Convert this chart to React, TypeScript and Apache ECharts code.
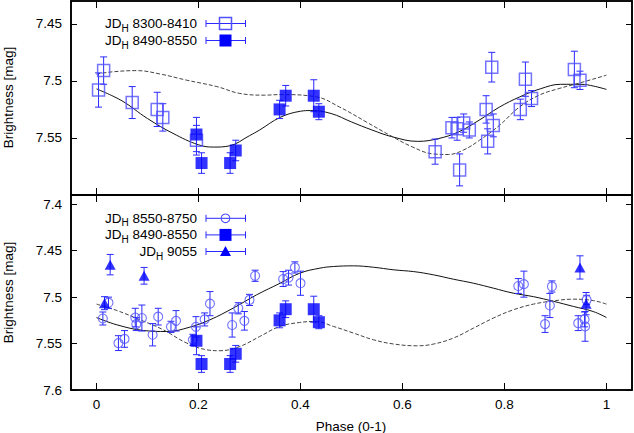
import React, { useEffect, useRef } from 'react';
import * as echarts from 'echarts';

// phase, magnitude, error
type Obs = [number, number, number];
type Pt = [number, number];

const xTicks = [0, 0.2, 0.4, 0.6, 0.8, 1];
const topYTicks = [7.45, 7.5, 7.55];
const bottomYTicks = [7.4, 7.45, 7.5, 7.55, 7.6];

const topLegend = ['8300-8410', '8490-8550'];
const bottomLegend = ['8550-8750', '8490-8550', '9055'];

const jd8300: Obs[] = [
  [0.004, 7.508, 0.015], [0.014, 7.491, 0.012], [0.07, 7.519, 0.014], [0.119, 7.525, 0.015],
  [0.13, 7.532, 0.012], [0.196, 7.552, 0.013], [0.664, 7.562, 0.011], [0.697, 7.541, 0.009],
  [0.707, 7.542, 0.01], [0.712, 7.578, 0.014], [0.72, 7.537, 0.008], [0.731, 7.543, 0.007],
  [0.764, 7.525, 0.012], [0.767, 7.553, 0.011], [0.775, 7.488, 0.013], [0.778, 7.539, 0.01],
  [0.831, 7.525, 0.009], [0.841, 7.4985, 0.015], [0.853, 7.5155, 0.007], [0.937, 7.49, 0.016],
  [0.948, 7.4995, 0.008],
];

const jd8490: Obs[] = [
  [0.196, 7.547, 0.015], [0.206, 7.572, 0.009], [0.262, 7.572, 0.009], [0.273, 7.561, 0.009],
  [0.359, 7.525, 0.008], [0.371, 7.513, 0.009], [0.426, 7.513, 0.014], [0.436, 7.527, 0.007],
];

const jd8550: Obs[] = [
  [0.0125, 7.523, 0.007], [0.0235, 7.506, 0.006], [0.043, 7.5495, 0.008], [0.055, 7.545, 0.009],
  [0.076, 7.522, 0.01], [0.078, 7.529, 0.007], [0.089, 7.5225, 0.014], [0.11, 7.5405, 0.012],
  [0.121, 7.521, 0.009], [0.146, 7.532, 0.006], [0.156, 7.5255, 0.011], [0.189, 7.546, 0.006],
  [0.195, 7.532, 0.011], [0.212, 7.524, 0.007], [0.2225, 7.507, 0.013], [0.266, 7.53, 0.013],
  [0.278, 7.512, 0.006], [0.29, 7.5255, 0.01], [0.3, 7.503, 0.006], [0.311, 7.477, 0.006],
  [0.366, 7.4805, 0.008], [0.3765, 7.479, 0.008], [0.389, 7.468, 0.006], [0.4, 7.485, 0.013],
  [0.827, 7.488, 0.008], [0.838, 7.486, 0.014], [0.8795, 7.529, 0.009], [0.889, 7.509, 0.013],
  [0.893, 7.4885, 0.006], [0.9445, 7.528, 0.008], [0.957, 7.524, 0.008], [0.958, 7.5315, 0.016],
  [0.961, 7.503, 0.005],
];

const jd9055: Obs[] = [
  [0.0157, 7.5065, 0.007], [0.0268, 7.465, 0.011], [0.0933, 7.477, 0.009],
  [0.948, 7.468, 0.0125], [0.96, 7.507, 0.012],
];

// fitted light curves
const topSolid: Pt[] = [
  [0, 7.507], [0.05, 7.5175], [0.1, 7.533], [0.15, 7.546], [0.2, 7.556], [0.23, 7.558],
  [0.26, 7.557], [0.3, 7.548], [0.32, 7.543], [0.36, 7.532], [0.4, 7.5266], [0.42, 7.526],
  [0.46, 7.5286], [0.5, 7.536], [0.54, 7.543], [0.58, 7.549], [0.63, 7.553], [0.67, 7.5506],
  [0.71, 7.5447], [0.75, 7.5345], [0.79, 7.523], [0.83, 7.514], [0.87, 7.507], [0.91, 7.503],
  [0.95, 7.503], [0.975, 7.5046], [1, 7.5075],
];

const topDashed: Pt[] = [
  [0, 7.494], [0.033, 7.492], [0.079, 7.491], [0.125, 7.494], [0.177, 7.4994], [0.236, 7.505],
  [0.281, 7.511], [0.33, 7.5125], [0.36, 7.512], [0.431, 7.514], [0.477, 7.523], [0.529, 7.536],
  [0.575, 7.5476], [0.62, 7.558], [0.66, 7.564], [0.69, 7.5645], [0.72, 7.5605], [0.751, 7.552],
  [0.79, 7.539], [0.829, 7.523], [0.868, 7.5125], [0.907, 7.5067], [0.946, 7.502], [1, 7.495],
];

const bottomSolid: Pt[] = [
  [0, 7.522], [0.04, 7.5298], [0.092, 7.5359], [0.138, 7.537], [0.183, 7.5323], [0.2225, 7.5244],
  [0.268, 7.5118], [0.314, 7.4975], [0.36, 7.485], [0.3986, 7.4742], [0.438, 7.4688], [0.465, 7.467],
  [0.504, 7.4663], [0.543, 7.4678], [0.583, 7.4706], [0.622, 7.4725], [0.661, 7.476], [0.7, 7.4807],
  [0.739, 7.485], [0.778, 7.4903], [0.817, 7.4957], [0.857, 7.4995], [0.896, 7.5045], [0.935, 7.51],
  [0.974, 7.5155], [1, 7.522],
];

const bottomDashed: Pt[] = [
  [0, 7.5075], [0.04, 7.5144], [0.0855, 7.5244], [0.131, 7.5352], [0.177, 7.5495], [0.216, 7.5567],
  [0.242, 7.5577], [0.281, 7.5531], [0.32, 7.5424], [0.359, 7.5316], [0.398, 7.5273], [0.43, 7.5262],
  [0.465, 7.5316], [0.504, 7.5387], [0.543, 7.5459], [0.583, 7.5505], [0.628, 7.5524], [0.661, 7.5505],
  [0.7, 7.544], [0.739, 7.5334], [0.778, 7.5226], [0.817, 7.5137], [0.857, 7.5075], [0.896, 7.504],
  [0.935, 7.5022], [0.974, 7.5037], [1, 7.5075],
];

const FONT = "'Liberation Sans', Arial, sans-serif";
const FS = 13.5;
const BLUE = '#0000ff';
const EDGE = '#5050ff';
const BAR = '#2a2aff';
const X_MIN = -0.05;
const X_MAX = 1.05;
const PLOT_LEFT = 71;
const PLOT_WIDTH = 561;

type Kind = 'openSquare' | 'square' | 'circle' | 'triangle';

const frame = { show: true, onZero: false, lineStyle: { color: '#000', width: 1.6 } };

const xAxisOf = (gridIndex: number, position: 'top' | 'bottom', labels: boolean) => ({
  type: 'value', gridIndex, position, min: X_MIN, max: X_MAX,
  axisLine: frame, splitLine: { show: false },
  axisTick: { show: true, inside: true, length: 7, customValues: xTicks, lineStyle: { color: '#000', width: 1 } },
  axisLabel: { show: labels, customValues: xTicks, margin: 7, color: '#000', fontSize: FS, fontFamily: FONT },
});

const yAxisOf = (gridIndex: number, position: 'left' | 'right', min: number, max: number, ticks: number[], labels: boolean) => ({
  type: 'value', gridIndex, position, min, max, inverse: true,
  axisLine: frame, splitLine: { show: false },
  axisTick: { show: true, inside: true, length: 6, customValues: ticks, lineStyle: { color: '#000', width: 1 } },
  axisLabel: { show: labels, customValues: ticks, margin: 9, color: '#000', fontSize: FS, fontFamily: FONT },
});

const errorBars = (data: Obs[], xAxisIndex: number, yAxisIndex: number) => ({
  type: 'custom', xAxisIndex, yAxisIndex, silent: true, z: 2,
  data: data.map(([x, y, e]) => [x, y - e, y + e]),
  encode: { x: 0, y: [1, 2] },
  renderItem: (_p: any, api: any) => {
    const a = api.coord([api.value(0), api.value(1)]);
    const b = api.coord([api.value(0), api.value(2)]);
    const hw = 3.5;
    const style = { stroke: BAR, lineWidth: 1 };
    return {
      type: 'group',
      children: [
        { type: 'line', shape: { x1: a[0], y1: a[1], x2: b[0], y2: b[1] }, style },
        { type: 'line', shape: { x1: a[0] - hw, y1: a[1], x2: a[0] + hw, y2: a[1] }, style },
        { type: 'line', shape: { x1: b[0] - hw, y1: b[1], x2: b[0] + hw, y2: b[1] }, style },
      ],
    };
  },
});

const symbolStyle: Record<Kind, any> = {
  openSquare: { symbol: 'rect', symbolSize: 12, itemStyle: { color: 'transparent', borderColor: EDGE, borderWidth: 1.5 } },
  square: { symbol: 'rect', symbolSize: 12, itemStyle: { color: BLUE } },
  circle: { symbol: 'circle', symbolSize: 9, itemStyle: { color: 'transparent', borderColor: EDGE, borderWidth: 1.1 } },
  triangle: { symbol: 'triangle', symbolSize: [11, 10], itemStyle: { color: BLUE } },
};

const points = (data: Obs[], xAxisIndex: number, yAxisIndex: number, kind: Kind) => ({
  type: 'scatter', xAxisIndex, yAxisIndex, silent: true, z: 3,
  data: data.map(([x, y]) => [x, y]),
  ...symbolStyle[kind],
});

const curve = (data: Pt[], xAxisIndex: number, yAxisIndex: number, dashed: boolean) => ({
  type: 'line', xAxisIndex, yAxisIndex, silent: true, z: 1,
  data, smooth: 0.4, showSymbol: false, symbol: 'none',
  lineStyle: dashed ? { color: '#444', width: 1, type: [4, 2] } : { color: '#111', width: 1 },
});

const legendSymbol = (kind: Kind, cx: number, cy: number) => {
  if (kind === 'circle') return { type: 'circle', shape: { cx, cy, r: 4.3 }, style: { fill: 'none', stroke: EDGE, lineWidth: 1.1 } };
  if (kind === 'triangle') return { type: 'polygon', shape: { points: [[cx, cy - 5.5], [cx + 5.5, cy + 4.5], [cx - 5.5, cy + 4.5]] }, style: { fill: BLUE } };
  return {
    type: 'rect', shape: { x: cx - 6, y: cy - 6, width: 12, height: 12 },
    style: kind === 'square' ? { fill: BLUE } : { fill: 'none', stroke: EDGE, lineWidth: 1.5 },
  };
};

const legendRow = (label: string, kind: Kind, y: number) => {
  const x1 = 206, x2 = 245.5, cx = 225.5;
  const bar = { stroke: BAR, lineWidth: 1 };
  return [
    {
      type: 'text', x: 197, y: y - 7,
      style: {
        text: `{m|JD}{s|H}{m| ${label}}`, align: 'right', verticalAlign: 'top',
        rich: {
          m: { fontSize: FS, fontFamily: FONT, fill: '#000', lineHeight: 14, verticalAlign: 'top' },
          s: { fontSize: 10, fontFamily: FONT, fill: '#000', lineHeight: 10, padding: [6.5, 0, 0, 0], verticalAlign: 'top' },
        },
      },
    },
    { type: 'line', shape: { x1, y1: y, x2, y2: y }, style: bar },
    { type: 'line', shape: { x1, y1: y - 3.5, x2: x1, y2: y + 3.5 }, style: bar },
    { type: 'line', shape: { x1: x2, y1: y - 3.5, x2, y2: y + 3.5 }, style: bar },
    legendSymbol(kind, cx, y),
  ];
};

const axisTitle = (text: string, x: number, y: number, rotation = 0) => ({
  type: 'text', x, y, rotation,
  style: { text, fill: '#000', fontSize: FS, fontFamily: FONT, align: 'center', verticalAlign: 'middle' },
});

// panel border, drawn over the axis lines so the frame stays crisp
const border = (top: number, height: number) => ({
  type: 'rect', z: 10, silent: true,
  shape: { x: PLOT_LEFT, y: top, width: PLOT_WIDTH, height },
  style: { fill: 'none', stroke: '#000', lineWidth: 1.6 },
});

function buildOption() {
  const topKinds: Kind[] = ['openSquare', 'square'];
  const bottomKinds: Kind[] = ['circle', 'square', 'triangle'];
  return {
    animation: false,
    backgroundColor: '#fff',
    grid: [
      { left: PLOT_LEFT, top: 1, width: PLOT_WIDTH, height: 194 },
      { left: PLOT_LEFT, top: 195, width: PLOT_WIDTH, height: 195 },
    ],
    xAxis: [
      xAxisOf(0, 'bottom', false),
      xAxisOf(0, 'top', false),
      xAxisOf(1, 'bottom', true),
      xAxisOf(1, 'top', false),
    ],
    yAxis: [
      yAxisOf(0, 'left', 7.43, 7.6, topYTicks, true),
      yAxisOf(0, 'right', 7.43, 7.6, topYTicks, false),
      yAxisOf(1, 'left', 7.39, 7.6, bottomYTicks, true),
      yAxisOf(1, 'right', 7.39, 7.6, bottomYTicks, false),
    ],
    series: [
      curve(topSolid, 0, 0, false),
      curve(topDashed, 0, 0, true),
      errorBars(jd8300, 0, 0),
      errorBars(jd8490, 0, 0),
      points(jd8300, 0, 0, 'openSquare'),
      points(jd8490, 0, 0, 'square'),
      curve(bottomSolid, 2, 2, false),
      curve(bottomDashed, 2, 2, true),
      errorBars(jd8550, 2, 2),
      errorBars(jd8490, 2, 2),
      errorBars(jd9055, 2, 2),
      points(jd8550, 2, 2, 'circle'),
      points(jd8490, 2, 2, 'square'),
      points(jd9055, 2, 2, 'triangle'),
    ],
    graphic: [
      border(1, 194),
      border(195, 195),
      ...topLegend.flatMap((l, i) => legendRow(l, topKinds[i], 23.5 + i * 17)),
      ...bottomLegend.flatMap((l, i) => legendRow(l, bottomKinds[i], 218.3 + i * 16.6)),
      axisTitle('Brightness [mag]', 8, 97.5, Math.PI / 2),
      axisTitle('Brightness [mag]', 8, 292.5, Math.PI / 2),
      axisTitle('Phase (0-1)', 351, 426),
    ],
  };
}

export default function App() {
  const ref = useRef<HTMLDivElement | null>(null);

  useEffect(() => {
    document.body.style.margin = '0';
    if (!ref.current) return;
    const chart = echarts.init(ref.current, undefined, { renderer: 'svg' });
    chart.setOption(buildOption() as any);
    return () => { chart.dispose(); };
  }, []);

  return <div ref={ref} style={{ width: 634, height: 433 }} />;
}
